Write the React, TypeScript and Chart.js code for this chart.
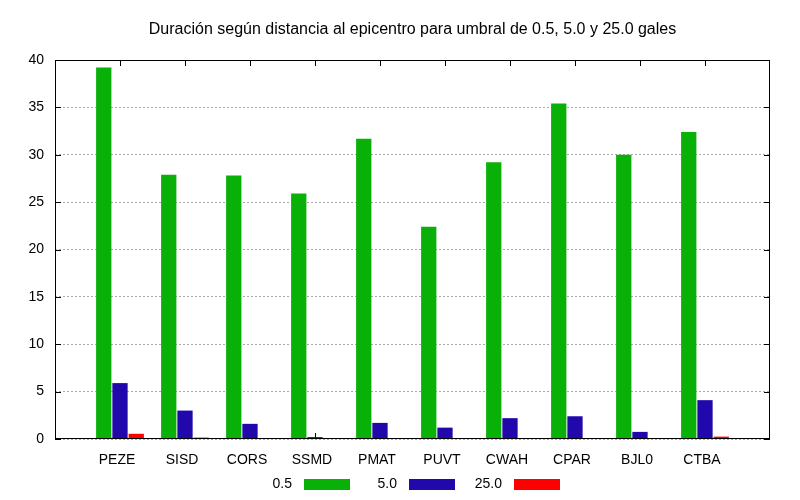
import React, { useEffect, useRef } from "react";
import { Chart, registerables } from "chart.js";

Chart.register(...registerables);

const titleText = "Duración según distancia al epicentro para umbral de 0.5, 5.0 y 25.0 gales";
const stations = ["PEZE", "SISD", "CORS", "SSMD", "PMAT", "PUVT", "CWAH", "CPAR", "BJL0", "CTBA"];
const seriesLabels = ["0.5", "5.0", "25.0"];
const values05 = [39.2, 27.9, 27.8, 25.9, 31.7, 22.4, 29.2, 35.4, 30.0, 32.4];
const values50 = [5.9, 3.0, 1.6, 0.2, 1.7, 1.2, 2.2, 2.4, 0.75, 4.1];
const values250 = [0.55, 0.15, 0, 0, 0, 0, 0, 0, 0, 0.25];
const yTicks = [0, 5, 10, 15, 20, 25, 30, 35, 40];
const colors = ["#08b008", "#2008aa", "#ff0000"];

const FONT = "Liberation Sans, Arial, Helvetica, sans-serif";

const framePlugin = {
  id: "frame",
  beforeDatasetsDraw(chart: any) {
    const { ctx, chartArea } = chart;
    const x = chart.scales.x;
    const y = chart.scales.y;
    ctx.save();
    ctx.strokeStyle = "#000";
    ctx.lineWidth = 1;
    ctx.beginPath();
    const tl = 6;
    for (let i = 1; i <= stations.length; i++) {
      const px = Math.round(x.getPixelForValue(i)) + 0.5;
      ctx.moveTo(px, chartArea.top);
      ctx.lineTo(px, chartArea.top + tl);
      ctx.moveTo(px, chartArea.bottom);
      ctx.lineTo(px, chartArea.bottom - tl);
    }
    for (const v of yTicks) {
      const py = Math.round(y.getPixelForValue(v)) + 0.5;
      ctx.moveTo(chartArea.left, py);
      ctx.lineTo(chartArea.left + tl, py);
      ctx.moveTo(chartArea.right, py);
      ctx.lineTo(chartArea.right - tl, py);
    }
    ctx.stroke();
    ctx.restore();
  },
  afterDatasetsDraw(chart: any) {
    const { ctx, chartArea } = chart;
    ctx.save();
    ctx.strokeStyle = "#000";
    ctx.lineWidth = 1;
    ctx.strokeRect(
      Math.round(chartArea.left) + 0.5,
      Math.round(chartArea.top) + 0.5,
      Math.round(chartArea.right - chartArea.left) - 1,
      Math.round(chartArea.bottom - chartArea.top) - 1
    );
    // title
    ctx.fillStyle = "#000";
    ctx.font = "16px " + FONT;
    ctx.textAlign = "center";
    ctx.textBaseline = "middle";
    ctx.fillText(titleText, (chartArea.left + chartArea.right) / 2, 30);
    // legend
    ctx.font = "14px " + FONT;
    chart.data.datasets.forEach((ds: any, i: number) => {
      const sx = 304 + i * 105;
      ctx.textAlign = "right";
      ctx.fillStyle = "#000";
      ctx.fillText(ds.label, sx - 12, 484);
      ctx.fillStyle = ds.backgroundColor;
      ctx.fillRect(sx, 479, 46, 11);
    });
    ctx.restore();
  },
};

export default function App() {
  const ref = useRef<HTMLCanvasElement | null>(null);
  useEffect(() => {
    if (!ref.current) return;
    const labels = ["", ...stations, ""];
    const pad = (arr: number[]) => [null, ...arr, null];
    const chart = new Chart(ref.current, {
      type: "bar",
      data: {
        labels,
        datasets: [values05, values50, values250].map((vals, i) => ({
          label: seriesLabels[i],
          data: pad(vals) as any,
          backgroundColor: colors[i],
          borderWidth: 0,
          categoryPercentage: 0.75,
          barPercentage: 0.94,
        })),
      },
      options: {
        responsive: false,
        animation: false,
        devicePixelRatio: 1,
        layout: { padding: { top: 60, right: 30, left: 0, bottom: 0 } },
        plugins: {
          legend: { display: false },
          title: { display: false },
          tooltip: { enabled: false },
        },
        scales: {
          x: {
            type: "category",
            offset: false,
            grid: { display: false, drawTicks: false },
            border: { display: false },
            ticks: {
              color: "#000",
              font: { family: FONT, size: 14 },
              padding: 13,
              labelOffset: -3,
              maxRotation: 0,
              autoSkip: false,
            },
            afterFit(scale: any) {
              scale.height = 61;
            },
          },
          y: {
            min: 0,
            max: 40,
            grid: { color: "#a8a8a8", lineWidth: 1, drawTicks: false },
            border: { display: false, dash: [2, 2] },
            ticks: {
              stepSize: 5,
              color: "#000",
              font: { family: FONT, size: 14 },
              padding: 11,
            },
            afterFit(scale: any) {
              scale.width = 55;
            },
          },
        },
      },
      plugins: [framePlugin],
    });
    return () => chart.destroy();
  }, []);
  return (
    <canvas
      ref={ref}
      width={800}
      height={500}
      style={{ position: "fixed", left: 0, top: 0, width: 800, height: 500 }}
    />
  );
}
